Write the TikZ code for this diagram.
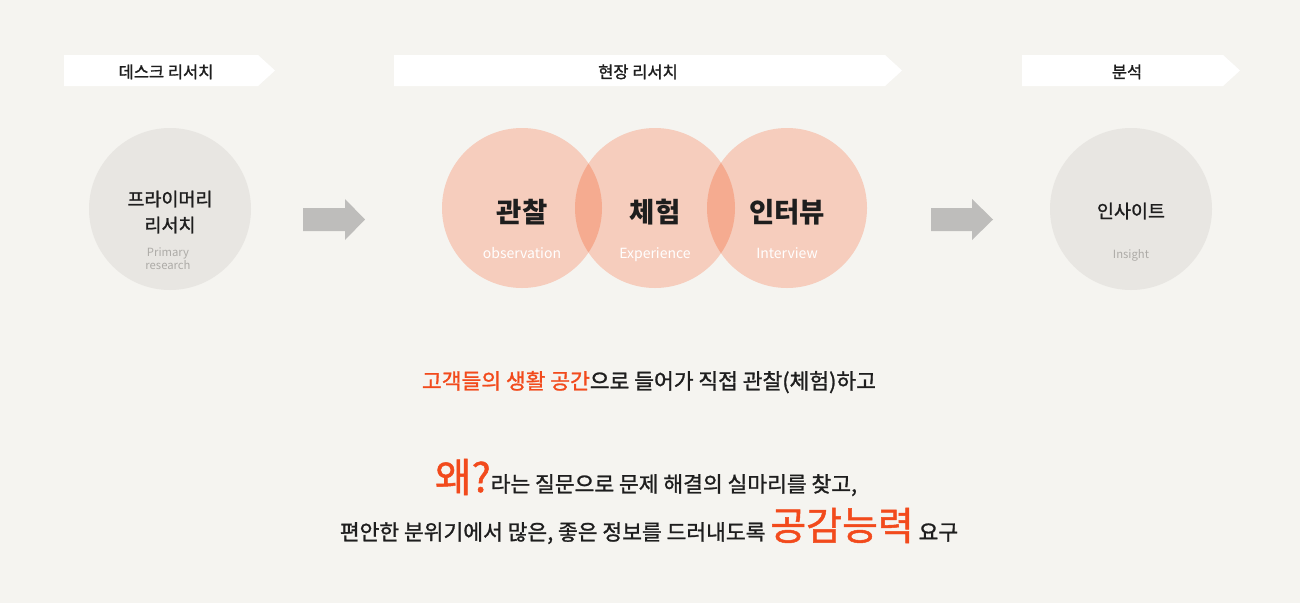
\documentclass[tikz,border=0pt]{standalone}
\usepackage{fontspec}
\setmainfont{Noto Sans CJK KR}
\newfontfamily\medfont[FakeBold=1.2]{Noto Sans CJK KR}
\definecolor{bg}{HTML}{F5F4F0}
\definecolor{petal}{HTML}{F6CDBD}
\definecolor{petaldeep}{HTML}{F5AB90}
\definecolor{pebble}{HTML}{E8E6E2}
\definecolor{arrowgrey}{HTML}{BEBDBB}
\definecolor{hint}{HTML}{ADABA7}
\definecolor{accent}{HTML}{F24A1C}
\definecolor{ink}{HTML}{1E1E1E}

\begin{document}
\begin{tikzpicture}[x=1pt,y=-1pt,
  stage/.style={font=\medfont\fontsize{16.5}{17}\selectfont, anchor=base, text=ink},
  bubble/.style={circle, minimum size=162pt, inner sep=0pt, fill=pebble},
  venn/.style={circle, minimum size=160pt, inner sep=0pt, fill=petal},
  title/.style={font=\medfont\fontsize{18.5}{19}\selectfont, anchor=base, text=ink},
  big/.style={font=\bfseries\fontsize{27.5}{28}\selectfont, anchor=base, text=ink},
  sub/.style={font=\fontsize{11.3}{12}\selectfont, anchor=base, text=hint},
  wsub/.style={font=\fontsize{14}{14}\selectfont, anchor=base, text=white},
  line/.style={font=\medfont\fontsize{21.5}{22}\selectfont, anchor=base, text=ink}]
  \useasboundingbox (0,0) rectangle (1300,603);
  \fill[bg] (0,0) rectangle (1300,603);
  \fill[white] (64,55) -- (258,55) -- (275,70.5) -- (258,86) -- (64,86) -- cycle;
  \fill[white] (394,55) -- (885,55) -- (902,70.5) -- (885,86) -- (394,86) -- cycle;
  \fill[white] (1022,55) -- (1223,55) -- (1240,70.5) -- (1223,86) -- (1022,86) -- cycle;
  \node[stage] (desk) at (166,78) {데스크 리서치};
  \node[stage] (field) at (638,78) {현장 리서치};
  \node[stage] (anal) at (1127,78) {분석};

  \node[bubble] (prim) at (170,209) {};
  \node[bubble] (ins) at (1131,209) {};
  \node[venn] (obs) at (522,208) {};
  \node[venn] (exp) at (655,208) {};
  \node[venn] (intv) at (787,208) {};
  \begin{scope}
    \clip (obs.center) circle [radius=80];
    \fill[petaldeep] (exp.center) circle [radius=80];
  \end{scope}
  \begin{scope}
    \clip (exp.center) circle [radius=80];
    \fill[petaldeep] (intv.center) circle [radius=80];
  \end{scope}

  \fill[arrowgrey] (303,208) -- (345,208) -- (345,199) -- (365,219.5)
    -- (345,240) -- (345,231) -- (303,231) -- cycle;
  \fill[arrowgrey] (931,208) -- (972,208) -- (972,199) -- (993,219.5)
    -- (972,240) -- (972,231) -- (931,231) -- cycle;

  \node[title] (primk1) at (170,206) {프라이머리};
  \node[title] (primk2) at (170,232) {리서치};
  \node[sub] (prime1) at (168,256) {Primary};
  \node[sub] (prime2) at (168,269.5) {research};
  \node[big] (obsk) at (522,222) {관찰};
  \node[wsub] (obse) at (522,258) {observation};
  \node[big] (expk) at (655,222) {체험};
  \node[wsub] (expe) at (655,258) {Experience};
  \node[big] (intvk) at (787,222) {인터뷰};
  \node[wsub] (intve) at (787,258) {Interview};
  \node[title] (insk) at (1131,218) {인사이트};
  \node[sub] (inse) at (1131,258) {Insight};

  \node[line] (l1) at (649,389)
    {\textcolor{accent}{고객들의 생활 공간}으로 들어가 직접 관찰(체험)하고};
  \node[line] (l2) at (646,492)
    {{\color{accent}\fontsize{40}{40}\selectfont 왜?}라는 질문으로 문제 해결의 실마리를 찾고,};
  \node[line] (l3) at (649,540)
    {편안한 분위기에서 많은, 좋은 정보를 드러내도록 {\color{accent}\fontsize{39}{40}\selectfont 공감능력} 요구};
\end{tikzpicture}
\end{document}
